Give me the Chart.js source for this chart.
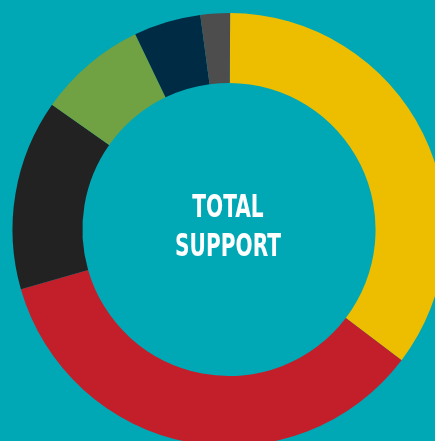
<!DOCTYPE html>
<html><head><meta charset="utf-8">
<script src="https://cdn.jsdelivr.net/npm/chart.js@4.4.0/dist/chart.umd.min.js"></script>
<style>
html,body{margin:0;padding:0;width:435px;height:441px;overflow:hidden;background:#00A8B5;}
#wrap{position:absolute;left:0;top:0;width:460px;height:460px;}
#label{position:absolute;left:128px;top:187px;width:200px;text-align:center;color:#fff;
  font-family:"DejaVu Sans Condensed","Liberation Sans Narrow",sans-serif;font-weight:bold;
  font-size:32px;line-height:39px;transform:scaleX(0.70);transform-origin:center top;}
</style></head><body>
<div id="wrap"><canvas id="c" width="460" height="460"></canvas></div>
<div id="label">TOTAL<br>SUPPORT</div>
<script>
const categories = ["Yellow", "Red", "Black", "Green", "Navy", "Gray"];
const values = [35.2, 35.2, 14.2, 8.1, 5.0, 2.2];
const colors = ["#EDBE00", "#C21F2B", "#222222", "#70A143", "#002B45", "#4D4D4D"];
const centerLines = ["TOTAL", "SUPPORT"];

new Chart(document.getElementById('c'), {
  type: 'doughnut',
  data: {
    labels: categories,
    datasets: [{ data: values, backgroundColor: colors, borderWidth: 0, hoverOffset: 0 }]
  },
  options: {
    responsive: false,
    animation: false,
    cutout: '67.7%',
    rotation: 0.3,
    layout: { padding: { left: 12, right: 14, top: 13, bottom: 14 } },
    plugins: { legend: { display: false }, tooltip: { enabled: false } },
    events: []
  }
});
</script>
</body></html>
